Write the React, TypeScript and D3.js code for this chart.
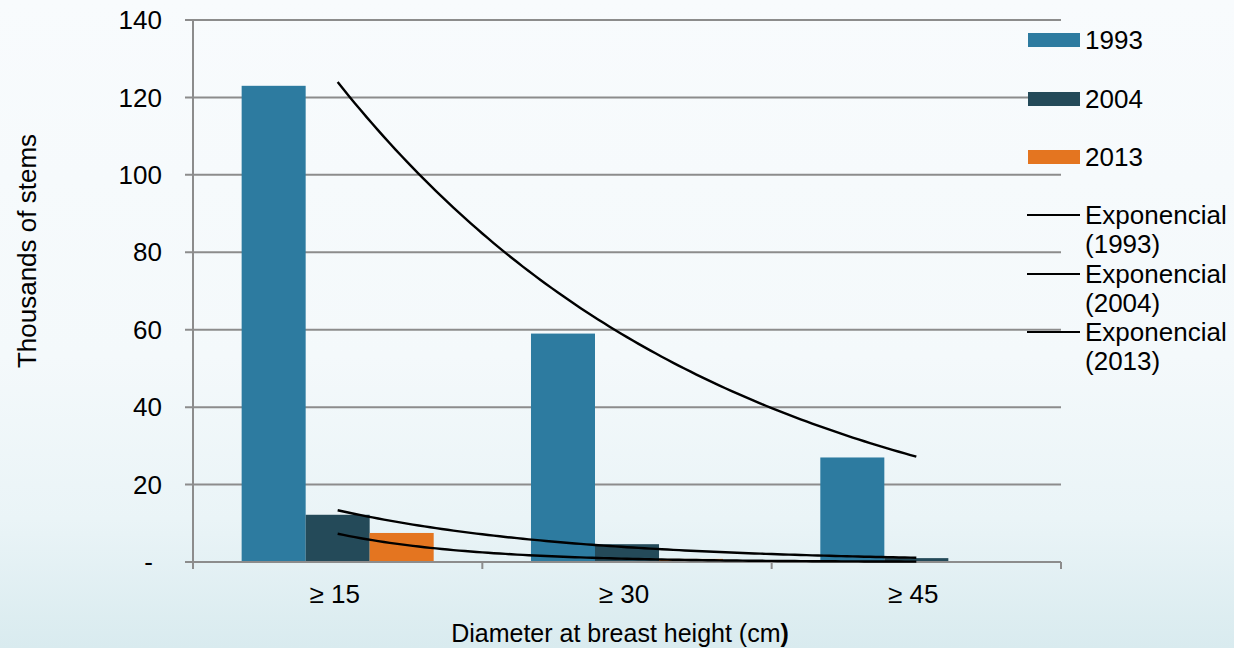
import React, { useEffect } from 'react';
import * as d3 from 'd3';

// data (thousands of stems)
const CATEGORIES = ['≥ 15', '≥ 30', '≥ 45'];
const SERIES = ['1993', '2004', '2013'];
const VALUES_1993 = [123, 59, 27];
const VALUES_2004 = [12.2, 4.6, 1.0];
const VALUES_2013 = [7.5, 0.8, 0.1];
const Y_TICKS = [0, 20, 40, 60, 80, 100, 120, 140];
const COLORS = ['#2d7ba0', '#244a59', '#e47520'];

const WIDTH = 1234;
const HEIGHT = 648;
const FONT = '"Liberation Sans", Arial, sans-serif';
const FS = 26;

// Excel style exponential trend: least squares on ln(y) against x = 1..n
function expFit(vals: number[]) {
    const xs = vals.map((_, i) => i + 1);
    const ls = vals.map(v => Math.log(v));
    const mx = d3.mean(xs) as number;
    const ml = d3.mean(ls) as number;
    const b = d3.sum(xs, (x, i) => (x - mx) * (ls[i] - ml)) / d3.sum(xs, x => (x - mx) ** 2);
    const a = ml - b * mx;
    return (x: number) => Math.exp(a + b * x);
}

export default function App() {
    useEffect(() => {
        document.body.style.margin = '0';
    }, []);

    const allValues = [VALUES_1993, VALUES_2004, VALUES_2013];

    const x0 = d3.scaleBand<string>().domain(CATEGORIES).range([193, 1061]).padding(0);
    const x1 = d3.scaleBand<string>().domain(SERIES).range([0, x0.bandwidth()]).paddingInner(0).paddingOuter(0.76);
    const y = d3.scaleLinear().domain([0, 140]).range([562, 20]);

    const xCenter = (i: number) => (x0(CATEGORIES[i]) as number) + x0.bandwidth() / 2;
    const xLin = d3.scaleLinear().domain([1, CATEGORIES.length]).range([xCenter(0), xCenter(CATEGORIES.length - 1)]);

    // sample each fitted curve between the first and last category centres
    const trendPaths = allValues.map(vals => {
        const f = expFit(vals);
        const pts = d3.range(1, 3.0001, 0.02).map(t => [xLin(t), y(f(t))] as [number, number]);
        return d3.line()(pts) as string;
    });

    const legendBars = [40, 99, 157];
    const legendLines = [215, 274, 332];

    return (
        <svg width={WIDTH} height={HEIGHT} style={{ display: 'block' }} fontFamily={FONT}>
            <defs>
                <linearGradient id="bg" x1="0" y1="0" x2="0" y2="1">
                    <stop offset="0" stopColor="#f8fbfd" />
                    <stop offset="0.55" stopColor="#f4f9fb" />
                    <stop offset="0.8" stopColor="#eaf4f7" />
                    <stop offset="1" stopColor="#d9ebef" />
                </linearGradient>
            </defs>
            <rect width={WIDTH} height={HEIGHT} fill="url(#bg)" />

            {/* gridlines + y tick labels */}
            {Y_TICKS.map(t => (
                <g key={t}>
                    <line x1={185} x2={1061} y1={y(t)} y2={y(t)} stroke="#8c8c8c" strokeWidth={2} />
                    <text x={t === 0 ? 153 : 162} y={y(t)} dy="0.35em" textAnchor="end" fontSize={FS} fill="#000">
                        {t === 0 ? '-' : t}
                    </text>
                </g>
            ))}

            {/* bars */}
            {SERIES.map((s, si) => (
                <g key={s} fill={COLORS[si]}>
                    {CATEGORIES.map((c, ci) => {
                        const v = allValues[si][ci];
                        return (
                            <rect key={c}
                                x={(x0(c) as number) + (x1(s) as number)}
                                width={x1.bandwidth()}
                                y={y(v)}
                                height={y(0) - y(v)} />
                        );
                    })}
                </g>
            ))}

            {/* axes */}
            <line x1={193} x2={193} y1={20} y2={562} stroke="#8c8c8c" strokeWidth={2} />
            <line x1={185} x2={1061} y1={562} y2={562} stroke="#8c8c8c" strokeWidth={2} />
            {d3.range(CATEGORIES.length + 1).map(i => {
                const xx = i < CATEGORIES.length ? (x0(CATEGORIES[i]) as number) : 1061;
                return <line key={i} x1={xx} x2={xx} y1={562} y2={569} stroke="#8c8c8c" strokeWidth={2} />;
            })}

            {/* trend lines */}
            {trendPaths.map((d, i) => (
                <path key={i} d={d} fill="none" stroke="#000" strokeWidth={2.4} />
            ))}

            {/* category labels */}
            {CATEGORIES.map((c, i) => (
                <text key={c} x={xCenter(i) - 3} y={603} textAnchor="middle" fontSize={FS}>{c}</text>
            ))}

            {/* axis titles */}
            <text x={620} y={642} textAnchor="middle" fontSize={25}>
                Diameter at breast height (cm<tspan fontWeight="bold">)</tspan>
            </text>
            <text transform="translate(36,251) rotate(-90)" textAnchor="middle" fontSize={FS}>Thousands of stems</text>

            {/* legend */}
            {SERIES.map((s, i) => (
                <g key={s}>
                    <rect x={1028} y={legendBars[i] - 7} width={52} height={14} fill={COLORS[i]} />
                    <text x={1085} y={legendBars[i]} dy="0.35em" fontSize={FS}>{s}</text>
                </g>
            ))}
            {SERIES.map((s, i) => (
                <g key={'e' + s}>
                    <line x1={1027} x2={1080} y1={legendLines[i]} y2={legendLines[i]} stroke="#000" strokeWidth={2} />
                    <text x={1085} y={legendLines[i]} dy="0.35em" fontSize={FS}>
                        <tspan x={1085}>Exponencial</tspan>
                        <tspan x={1085} dy={29}>({s})</tspan>
                    </text>
                </g>
            ))}
        </svg>
    );
}
